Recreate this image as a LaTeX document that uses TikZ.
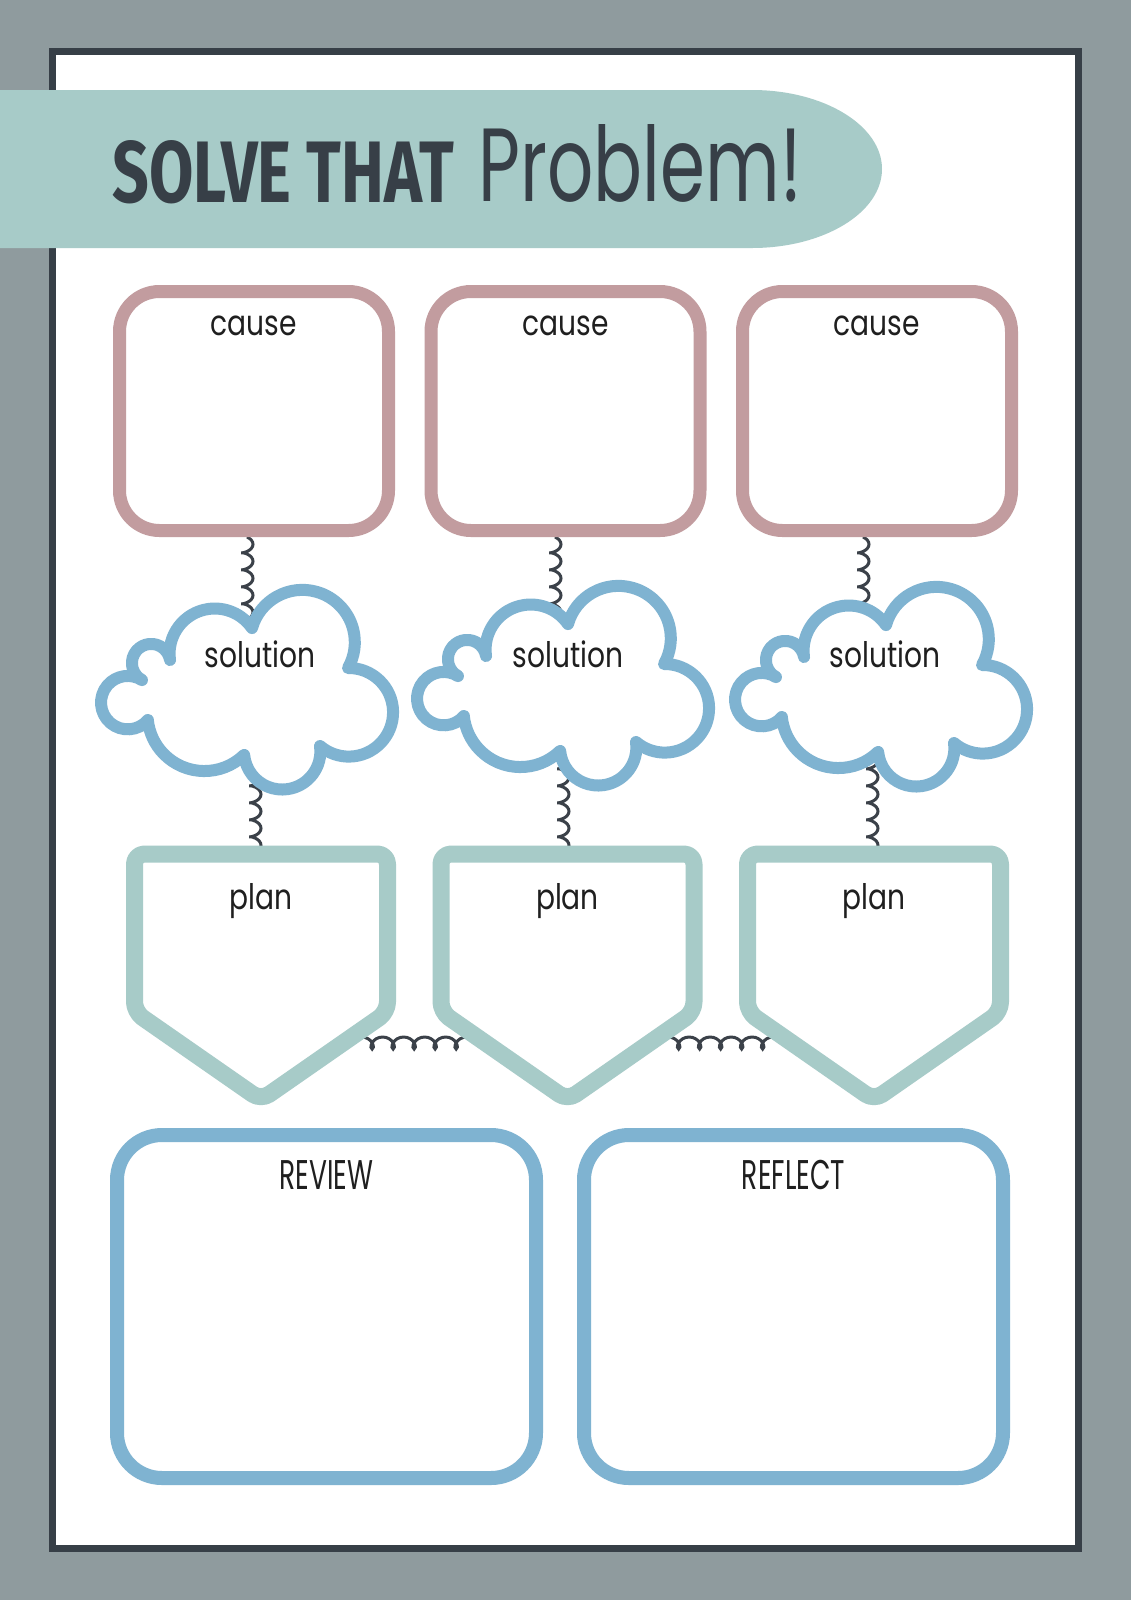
\documentclass[tikz,border=0pt]{standalone}
\usepackage{fontspec}
\usepackage{xcolor}
\usepackage{tikz}
\usetikzlibrary{decorations,decorations.pathmorphing}
\usetikzlibrary{positioning,backgrounds}

\newfontfamily\handfont{Poppins}
\newfontfamily\titlefont{Fira Sans}

\definecolor{pagegray}{HTML}{8F9B9E}
\definecolor{framedark}{HTML}{373F47}
\definecolor{mint}{HTML}{A7CBC8}
\definecolor{rose}{HTML}{C29C9F}
\definecolor{sky}{HTML}{7FB3D1}
\definecolor{coildark}{HTML}{3B4149}

\newcommand{\hand}[2][0.8]{\scalebox{#1}[1]{\handfont #2}}

\tikzset{
    causebox/.style={
      rectangle,
      rounded corners=4mm,
      draw=rose, line width=1.3mm,
      minimum width=26.9mm,
      minimum height=23.9mm,
      inner sep=0pt,
    },
    bigbox/.style={
      rectangle,
      rounded corners=4.5mm,
      draw=sky, line width=1.4mm,
      minimum width=41.9mm,
      minimum height=34.3mm,
      inner sep=0pt,
    },
    planline/.style={
      draw=mint, line width=1.7mm,
      line join=round, rounded corners=1mm,
    },
    cloudline/.style={
      draw=sky, line width=1.2mm,
      fill=white, line join=round,
    },
    lbl/.style={
      anchor=base,
      inner sep=0pt,
      font=\fontsize{10}{12}\selectfont,
      text=black!88,
    },
    headtext/.style={
      anchor=base west,
      inner sep=0pt,
      text=framedark,
    },
    spring/.style={
      draw=coildark, line width=0.3mm,
      decorate,
      decoration={coil, aspect=0.5, amplitude=0.6mm, segment length=1.7mm},
    },
    hcoil/.style={
      decoration={coil, aspect=0.9, amplitude=0.6mm, segment length=2.1mm},
    },
}

% outline of one cloud, in pixels
\newcommand{\cloudpath}{(142,680)
  arc[start angle=241.6, end angle=9.6, radius=1.92mm] -- (170,660)
  arc[start angle=188, end angle=34.6, radius=4.52mm] -- (252,628)
  arc[start angle=164.2, end angle=-29.4, radius=5.24mm] -- (348,668)
  arc[start angle=91, end angle=-130.5, radius=4.43mm] -- (320,746)
  arc[start angle=8, end angle=-174.5, radius=3.82mm] -- (244,755)
  arc[start angle=-45.9, end angle=-174.1, radius=5.69mm] -- (148,720)
  arc[start angle=-40.6, end angle=-302.3, radius=2.67mm] -- cycle}

\newcommand{\solcloud}[1]{%
  \begin{scope}[shift={#1}]
    \draw[cloudline] \cloudpath;
  \end{scope}}

\newcommand{\planbox}[2]{%
  \draw[planline] (#2-126.5,854) -- (#2+126.5,854) -- (#2+126.5,1012)
    -- (#2,1100) -- (#2-126.5,1012) -- cycle;
  \coordinate (#1-t) at (#2,854);
  \coordinate (#1-l) at (#2-90,1043);
  \coordinate (#1-r) at (#2+90,1043);
  \node[lbl] (#1) at (#2,909) {\hand{plan}};
}

\begin{document}
\begin{tikzpicture}[x=0.1mm, y=-0.1mm]
  \useasboundingbox (0,0) rectangle (1131,1600);

  \begin{scope}[on background layer]
    \fill[pagegray] (0,0) rectangle (1131,1600);
    \draw[framedark, line width=0.7mm, fill=white] (52.5,51.5) rectangle (1078.5,1548.5);
  \end{scope}

  % title band
  \fill[mint] (0,90) -- (752,90)
    arc[start angle=90, end angle=-90, x radius=13mm, y radius=7.9mm]
    -- (0,248) -- cycle;
  \node[headtext] (TTL) at (112,202)
    {\resizebox{34.1mm}{6.2mm}{\titlefont\bfseries SOLVE THAT}};
  \node[headtext] (PRB) at (478,201)
    {\resizebox{32.3mm}{7.7mm}{\handfont Problem!}};

  % clouds
  \solcloud{(0,0)}
  \solcloud{(316,-4)}
  \solcloud{(634,-3)}

  \node[lbl] (S1) at (260,667) {\hand{solution}};
  \node[lbl] (S2) at (568,667) {\hand{solution}};
  \node[lbl] (S3) at (885,667) {\hand{solution}};

  % causes
  \node[causebox,
  label={[lbl, yshift=-5mm]north:\hand{cause}}] (C1) at (254,411) {};

  \node[causebox,
  right of=C1,
  node distance=31.15mm,
  label={[lbl, yshift=-5mm]north:\hand{cause}}] (C2) {};

  \node[causebox,
  right of=C2,
  node distance=31.15mm,
  label={[lbl, yshift=-5mm]north:\hand{cause}}] (C3) {};

  % plans
  \planbox{P1}{261}
  \planbox{P2}{567.5}
  \planbox{P3}{874}

  % review and reflect
  \node[bigbox,
  label={[lbl, font=\fontsize{11.8}{13}\selectfont, yshift=-6.1mm]north:{\hand[0.64]{REVIEW}}}]
  (REV) at (326.5,1306.5) {};

  \node[bigbox,
  right of=REV,
  node distance=46.7mm,
  label={[lbl, font=\fontsize{11.8}{13}\selectfont, yshift=-6.1mm]north:{\hand[0.64]{REFLECT}}}]
  (REF) {};

  % springs
  \begin{scope}[on background layer]
    \draw[spring] ([xshift=-0.7mm]C1.south) -- ([xshift=-0.7mm]C1.south |- S1.north);
    \draw[spring] ([xshift=-1.05mm]C2.south) -- ([xshift=-1.05mm]C2.south |- S2.north);
    \draw[spring] ([xshift=-1.4mm]C3.south) -- ([xshift=-1.4mm]C3.south |- S3.north);

    \draw[spring] ([xshift=-0.5mm]S1.south) -- ([xshift=-0.5mm]S1.south |- P1-t);
    \draw[spring] ([xshift=-0.5mm]S2.south) -- ([xshift=-0.5mm]S2.south |- P2-t);
    \draw[spring] ([xshift=-1.3mm]S3.south) -- ([xshift=-1.3mm]S3.south |- P3-t);

    \draw[spring, hcoil] (P1-r) -- (P2-l);
    \draw[spring, hcoil] (P2-r) -- (P3-l);
  \end{scope}
\end{tikzpicture}
\end{document}
